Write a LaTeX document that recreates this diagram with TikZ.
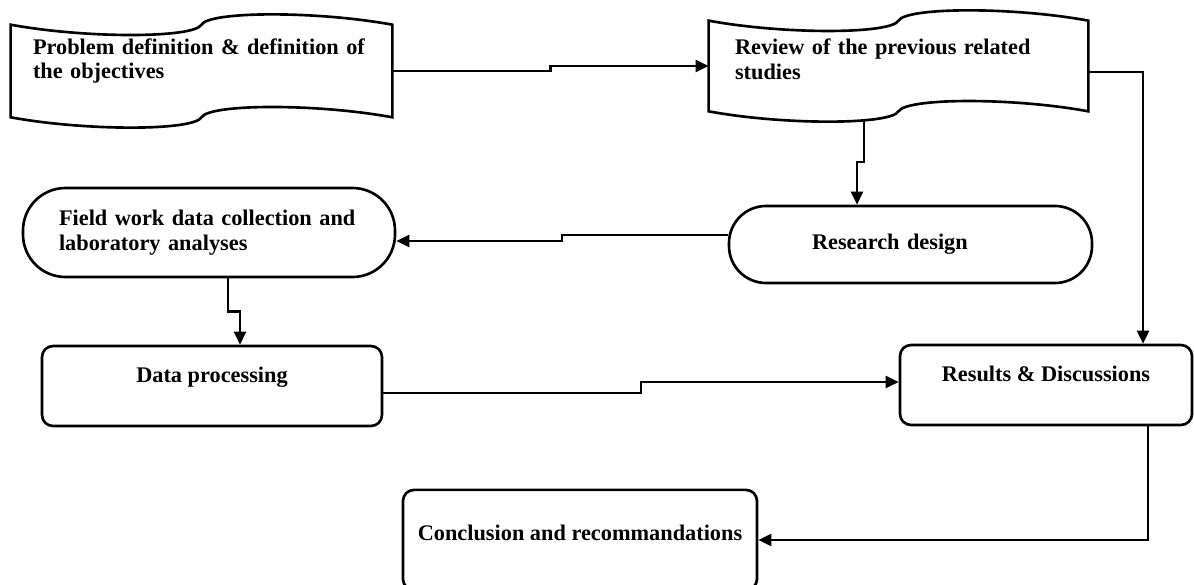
\documentclass[tikz,border=0pt]{standalone}
\usepackage{fontspec}
\setmainfont{Liberation Serif}
\usepackage{tikz}
\usetikzlibrary{positioning, arrows.meta, calc}

% outline of a punched tape round a (rectangular) node
\newcommand{\tapeoutline}[1]{%
  \draw[line width=1.5pt]
    (#1.north west) .. controls ($(#1.north west)!0.2!(#1.north east)+(0,-0.28)$)
        and ($(#1.north west)!0.48!(#1.north east)+(0,-0.27)$) .. (#1.north)
      .. controls ($(#1.north west)!0.52!(#1.north east)+(0,0.27)$)
        and ($(#1.north west)!0.8!(#1.north east)+(0,0.28)$) .. (#1.north east)
    -- (#1.south east) .. controls ($(#1.south west)!0.8!(#1.south east)+(0,0.28)$)
        and ($(#1.south west)!0.52!(#1.south east)+(0,0.27)$) .. (#1.south)
      .. controls ($(#1.south west)!0.48!(#1.south east)+(0,-0.27)$)
        and ($(#1.south west)!0.2!(#1.south east)+(0,-0.28)$) .. (#1.south west)
    -- cycle;}

\begin{document}
\begin{tikzpicture}[
    txt/.style={font=\bfseries\fontsize{12.7}{14.2}\selectfont},
    tapebox/.style={txt, rectangle, inner ysep=0pt, align=left},
    termbox/.style={txt, rectangle, draw, line width=1.5pt, inner ysep=0pt, align=left},
    procbox/.style={txt, rectangle, rounded corners=0.22cm, draw, line width=1.5pt, inner sep=0pt, align=center},
    flow/.style={line width=1.4pt, -{Triangle[length=0.26cm, width=0.24cm]}},
    hvjog/.style={to path={-| ($(\tikztostart)!0.5!(\tikztotarget)$) |- (\tikztotarget)}},
    vhjog/.style={to path={|- ($(\tikztostart)!0.5!(\tikztotarget)$) -| (\tikztotarget)}}
  ]
  \useasboundingbox (0,0) rectangle (23.88,-11.7);

  \node[tapebox, inner xsep=0.44cm, text width=6.74cm, text height=16.5pt, text depth=35.8pt] (prob) at (4.03,-1.42) {\mbox{Problem definition \& definition of}\\the objectives};
  \node[tapebox, inner xsep=0.52cm, text width=6.54cm, text height=19.2pt, text depth=32pt] (rev) at (17.97,-1.32) {\mbox{Review of the previous related}\\studies};
  \tapeoutline{prob}
  \tapeoutline{rev}

  \node[termbox, rounded corners=0.85cm, minimum width=7.44cm, minimum height=1.78cm, inner xsep=0.72cm, text width=6cm] (field) at (4.18,-4.65) {\mbox{Field work data collection and}\\laboratory analyses};
  \node[termbox, rounded corners=0.74cm, minimum width=7.26cm, minimum height=1.54cm, text width=3.94cm] (design) at (18.21,-4.89) {Research design};

  \node[procbox, minimum width=6.8cm, text height=21pt, text depth=24.5pt] (data) at (4.24,-7.72) {Data processing};
  \node[procbox, minimum width=5.84cm, text height=21pt, text depth=24.5pt] (results) at (20.92,-7.70) {Results \& Discussions};
  \node[procbox, minimum width=7.08cm, text height=29pt, text depth=28pt] (concl) at (11.6,-10.8) {Conclusion and recommandations};

  \draw[flow] (prob.east) to[hvjog] (rev.west);
  \draw[flow] ([yshift=-0.12cm]rev.east) -| ([xshift=1.94cm]results.north);
  \draw[flow] ([xshift=-0.69cm, yshift=-0.17cm]rev.south) to[vhjog] ([xshift=-1.07cm]design.north);
  \draw[flow] ([yshift=0.19cm]design.west) to[hvjog] ([yshift=-0.17cm]field.east);
  \draw[flow] ([xshift=0.38cm]field.south) to[vhjog] ([xshift=0.56cm]data.north);
  \draw[flow] ([yshift=-0.14cm]data.east) to[hvjog] ([yshift=0.06cm]results.west);
  \draw[flow] ([xshift=2.04cm]results.south) |- (concl.east);
\end{tikzpicture}
\end{document}
